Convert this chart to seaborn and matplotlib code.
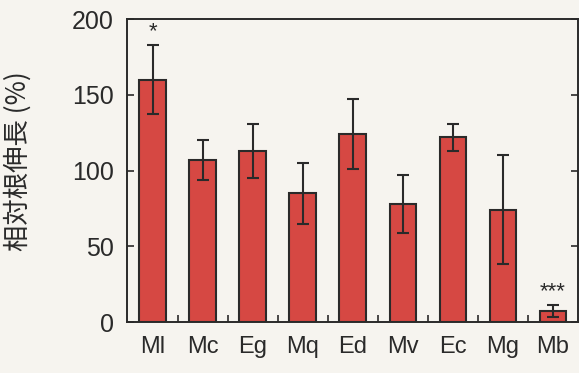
import matplotlib
matplotlib.use("Agg")
import matplotlib.pyplot as plt
import seaborn as sns
import numpy as np
import pandas as pd

# Relative root elongation per species (mean ± error)
species = ["Ml", "Mc", "Eg", "Mq", "Ed", "Mv", "Ec", "Mg", "Mb"]
elongation = [160, 107, 113, 85, 124, 78, 122, 74, 7]
error = [23, 13, 18, 20, 23, 19, 9, 36, 4]
significance = ["*", "", "", "", "", "", "", "", "***"]

yticks = [0, 50, 100, 150, 200]
ylabel = "相対根伸長 (%)"

bar_color = "#d64843"
ink = "#2a2a2a"
paper = "#f6f4ef"

sns.set_theme(style="white")
plt.rcParams["font.family"] = ["Liberation Sans", "DejaVu Sans"]

df = pd.DataFrame({"species": species, "elongation": elongation, "error": error})

fig = plt.figure(figsize=(5.79, 3.73), dpi=100, facecolor=paper)
ax = fig.add_axes([0.2202, 0.1367, 0.7781, 0.8123])
ax.set_facecolor(paper)

sns.barplot(data=df, x="species", y="elongation", color=bar_color,
            saturation=1, width=0.53, errorbar=None,
            edgecolor=ink, linewidth=1.5, ax=ax)

xpos = np.arange(len(species))
ax.errorbar(xpos, df["elongation"], yerr=df["error"], fmt="none",
            ecolor=ink, elinewidth=1.5, capsize=4, capthick=1.5)

for x, y, e, s in zip(xpos, elongation, error, significance):
    if s:
        ax.text(x, y + e + 2, s, ha="center", va="bottom",
                fontsize=16, color=ink)

ax.set_xlim(-0.5, len(species) - 0.5)
ax.set_ylim(0, 200)
ax.set_yticks(yticks)
ax.set_yticklabels([str(t) for t in yticks])

for side in ["left", "right", "top", "bottom"]:
    ax.spines[side].set_visible(True)
    ax.spines[side].set_color(ink)
    ax.spines[side].set_linewidth(1.4)

ax.tick_params(axis="y", which="major", direction="in", length=5, width=1.2,
               color=ink, labelsize=18, labelcolor=ink, pad=10,
               left=True, right=True)
ax.tick_params(axis="x", which="major", length=0, labelsize=17,
               labelcolor=ink, pad=10)
ax.set_xticks(xpos[:-1] + 0.5, minor=True)
ax.tick_params(axis="x", which="minor", direction="in", length=5, width=1.2,
               color=ink, bottom=True)

ax.set_xlabel("")
ax.set_ylabel(ylabel, fontsize=19, color=ink,
              family=["Noto Sans CJK JP", "DejaVu Sans"])
ax.yaxis.set_label_coords(-0.212, 0.53)

fig.savefig("out.png", dpi=100, facecolor=paper)
